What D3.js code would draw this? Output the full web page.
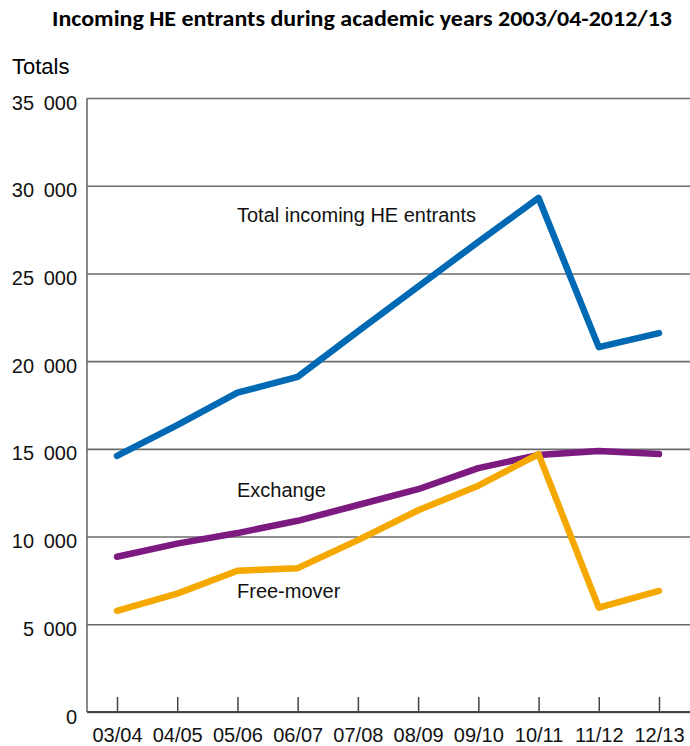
<!DOCTYPE html>
<html>
<head>
<meta charset="utf-8">
<script src="https://cdn.jsdelivr.net/npm/d3@7"></script>
<style>
  body { margin: 0; background: #fff; }
  svg { display: block; }
</style>
</head>
<body>
<div id="chart"></div>
<script>
const years = ["03/04", "04/05", "05/06", "06/07", "07/08", "08/09", "09/10", "10/11", "11/12", "12/13"];
const total = [14600, 16350, 18200, 19100, 21700, 24250, 26800, 29300, 20800, 21600];
const exchange = [8850, 9600, 10200, 10900, 11800, 12700, 13900, 14650, 14880, 14700];
const freeMover = [5770, 6750, 8050, 8200, 9800, 11500, 12900, 14700, 5950, 6900];
const yTicks = [0, 5000, 10000, 15000, 20000, 25000, 30000, 35000];

const W = 690, H = 746;
const plotLeft = 87, plotRight = 690, plotTop = 98, plotBottom = 712;
const font = "'Liberation Sans', Arial, Helvetica, sans-serif";

const svg = d3.select("#chart")
    .append("svg")
    .attr("width", W)
    .attr("height", H);

const x = d3.scalePoint()
    .domain(years)
    .range([117, 659]);

const y = d3.scaleLinear()
    .domain([0, 35000])
    .range([plotBottom, plotTop]);

// title
svg.append("text")
    .attr("x", 362)
    .attr("y", 26)
    .attr("text-anchor", "middle")
    .attr("textLength", 620)
    .attr("lengthAdjust", "spacingAndGlyphs")
    .style("font-family", "Carlito, 'Liberation Sans', Arial, sans-serif")
    .style("font-weight", "bold")
    .style("font-size", "22px")
    .text("Incoming HE entrants during academic years 2003/04-2012/13");

svg.append("text")
    .attr("x", 12)
    .attr("y", 74)
    .style("font-family", font)
    .style("font-size", "22px")
    .text("Totals");

// gridlines + y labels
const yAxis = svg.append("g")
    .attr("transform", `translate(${plotLeft},0)`)
    .call(d3.axisLeft(y)
        .tickValues(yTicks)
        .tickSize(-(plotRight - plotLeft))
        .tickFormat(d => d3.format(",")(d).replace(",", " ")));

yAxis.select(".domain").remove();
yAxis.selectAll(".tick line")
    .attr("stroke", "#6b6b6b")
    .attr("stroke-width", 1.6);
yAxis.selectAll(".tick text")
    .attr("x", -10)
    .attr("dy", "11px")
    .style("font-family", font)
    .style("font-size", "20px")
    .style("word-spacing", "4px")
    .attr("fill", "#111");

svg.append("line")
    .attr("x1", plotLeft).attr("x2", plotLeft)
    .attr("y1", plotTop).attr("y2", plotBottom)
    .attr("stroke", "#6b6b6b")
    .attr("stroke-width", 1.6);

// x axis
const xAxis = svg.append("g")
    .attr("transform", `translate(0,${plotBottom})`)
    .call(d3.axisBottom(x).tickSize(-15).tickSizeOuter(0));

xAxis.select(".domain").remove();
xAxis.selectAll(".tick line")
    .attr("stroke", "#444")
    .attr("stroke-width", 1.5);
xAxis.selectAll(".tick text")
    .attr("y", 30)
    .attr("dy", 0)
    .style("font-family", font)
    .style("font-size", "20px")
    .attr("fill", "#111");

svg.append("line")
    .attr("x1", plotLeft).attr("x2", plotRight)
    .attr("y1", plotBottom).attr("y2", plotBottom)
    .attr("stroke", "#444")
    .attr("stroke-width", 2);

// lines
const line = d3.line()
    .x((d, i) => x(years[i]))
    .y(d => y(d));

const series = [
    { name: "Total incoming HE entrants", values: total, color: "#0069b4", lx: 237, ly: 222 },
    { name: "Exchange", values: exchange, color: "#7d1a80", lx: 237, ly: 497 },
    { name: "Free-mover", values: freeMover, color: "#f5a900", lx: 237, ly: 598 }
];

svg.selectAll(".series")
    .data(series)
    .enter()
    .append("path")
    .attr("class", "series")
    .attr("d", d => line(d.values))
    .attr("fill", "none")
    .attr("stroke", d => d.color)
    .attr("stroke-width", 6.5)
    .attr("stroke-linecap", "round")
    .attr("stroke-linejoin", "round");

svg.selectAll(".label")
    .data(series)
    .enter()
    .append("text")
    .attr("class", "label")
    .attr("x", d => d.lx)
    .attr("y", d => d.ly)
    .style("font-family", font)
    .style("font-size", "20px")
    .attr("fill", "#111")
    .text(d => d.name);
</script>
</body>
</html>
